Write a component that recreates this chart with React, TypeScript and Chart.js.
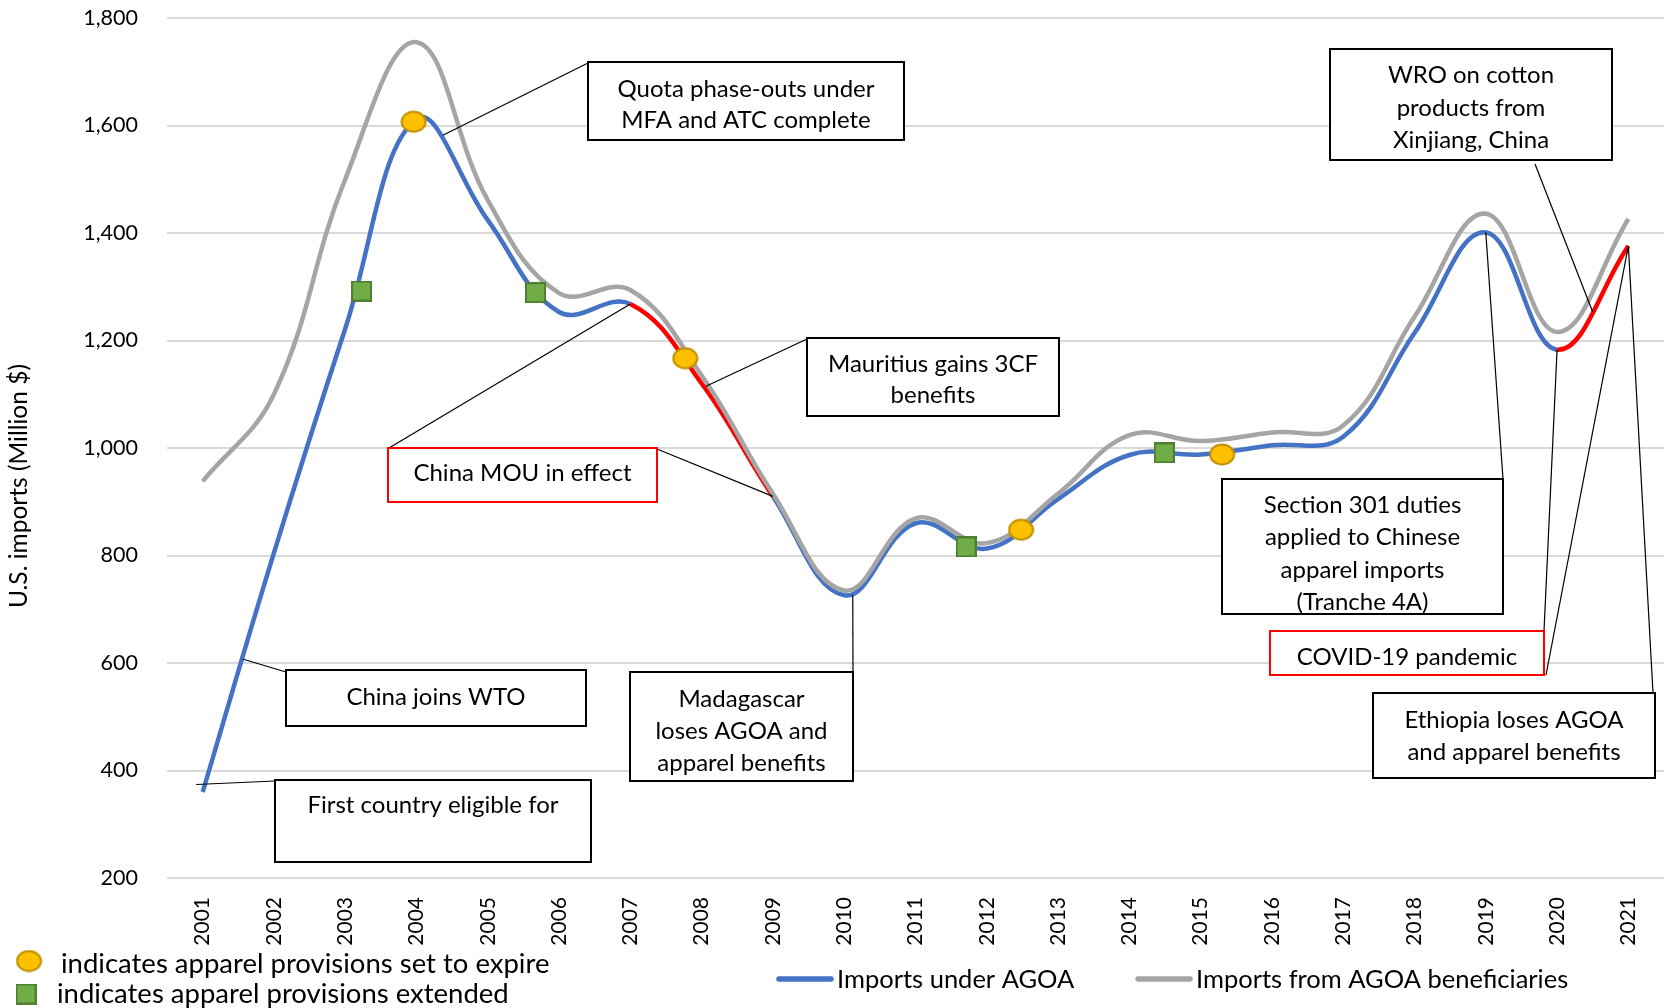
import React, { useEffect, useRef } from "react";
import { Chart, registerables } from "chart.js";

Chart.register(...registerables);

// ---------- data ----------
const years = [2001, 2002, 2003, 2004, 2005, 2006, 2007, 2008, 2009, 2010, 2011, 2012, 2013, 2014, 2015, 2016, 2017, 2018, 2019, 2020, 2021];
const importsUnderAgoa = [360, 805, 1222, 1612, 1424, 1253, 1268, 1120, 910, 726, 860, 813, 905, 987, 988, 1005, 1021, 1214, 1401, 1183, 1376];
const importsFromBeneficiaries = [938, 1100, 1500, 1755, 1461, 1288, 1294, 1135, 915, 735, 869, 823, 915, 1024, 1013, 1029, 1042, 1244, 1436, 1216, 1426];
// segments of "Imports under AGOA" starting at these years are highlighted red
const highlightedSegmentStarts = [2007, 2008, 2020];
// markers: apparel provisions set to expire (yellow) / extended (green)
const expireYears = [2003.96, 2007.77, 2012.48, 2015.3];
const expireValues = [1607, 1167, 848, 988];
const extendedYears = [2003.23, 2005.67, 2011.71, 2014.49];
const extendedValues = [1292, 1289, 816, 991];
const yTickValues = [200, 400, 600, 800, 1000, 1200, 1400, 1600, 1800];

const seriesNames = ["Imports under AGOA", "Imports from AGOA beneficiaries"];
const markerLegend = ["indicates apparel provisions set to expire", "indicates apparel provisions extended"];
const yAxisTitle = "U.S. imports (Million $)";

// ---------- styles ----------
const FONT = "Lato, Carlito, 'Open Sans', sans-serif";
const BLUE = "#4472C4";
const GRAY = "#A5A5A5";
const RED = "#FF0000";

type Note = {
  lines: string[];
  box: [number, number, number, number];
  border: string;
  baseline: number;
  lh: number;
  leaders: { from: [number, number]; to: [number, number] }[];
};

const notes: Note[] = [
  { lines: ["Quota phase-outs under", "MFA and ATC complete"], box: [588, 62, 316, 78], border: "#000", baseline: 97, lh: 31,
    leaders: [{ from: [588, 63], to: [2004.37, 1582] }] },
  { lines: ["Mauritius gains 3CF", "benefits"], box: [807, 338, 252, 78], border: "#000", baseline: 372, lh: 31,
    leaders: [{ from: [807, 339], to: [2008.06, 1115] }] },
  { lines: ["China MOU in effect"], box: [388, 448, 269, 54], border: RED, baseline: 481, lh: 31,
    leaders: [{ from: [389, 448], to: [2007, importsUnderAgoa[6]] }, { from: [657, 449], to: [2009, importsUnderAgoa[8]] }] },
  { lines: ["China joins WTO"], box: [286, 670, 300, 56], border: "#000", baseline: 705, lh: 31,
    leaders: [{ from: [286, 672], to: [2001.57, 607] }] },
  { lines: ["First country eligible for"], box: [275, 780, 316, 82], border: "#000", baseline: 813, lh: 31,
    leaders: [{ from: [275, 781], to: [2000.91, 374] }] },
  { lines: ["Madagascar", "loses AGOA and", "apparel benefits"], box: [630, 672, 223, 109], border: "#000", baseline: 707, lh: 32,
    leaders: [{ from: [853, 672], to: [2010.12, 726] }] },
  { lines: ["WRO on cotton", "products from", "Xinjiang, China"], box: [1330, 49, 282, 111], border: "#000", baseline: 83, lh: 32.5,
    leaders: [{ from: [1535, 164], to: [2020.5, 1253] }] },
  { lines: ["Section 301 duties", "applied to Chinese", "apparel imports", "(Tranche 4A)"], box: [1222, 479, 281, 135], border: "#000", baseline: 513, lh: 32.3,
    leaders: [{ from: [1503, 479], to: [2019, importsUnderAgoa[18]] }] },
  { lines: ["COVID-19 pandemic"], box: [1270, 631, 274, 44], border: RED, baseline: 665, lh: 31,
    leaders: [{ from: [1544, 631], to: [2020, importsUnderAgoa[19]] }, { from: [1546, 675], to: [2021, importsUnderAgoa[20]] }] },
  { lines: ["Ethiopia loses AGOA", "and apparel benefits"], box: [1373, 693, 282, 85], border: "#000", baseline: 728, lh: 32,
    leaders: [{ from: [1653, 693], to: [2021, importsUnderAgoa[20]] }] },
];

function makeEllipse(w: number, h: number, fill: string, stroke: string, lw: number) {
  const c = document.createElement("canvas");
  c.width = w; c.height = h;
  const g = c.getContext("2d")!;
  g.beginPath();
  g.ellipse(w / 2, h / 2, w / 2 - lw / 2 - 0.5, h / 2 - lw / 2 - 0.5, 0, 0, Math.PI * 2);
  g.fillStyle = fill; g.fill();
  g.lineWidth = lw; g.strokeStyle = stroke; g.stroke();
  return c;
}

function makeSquare(s: number, fill: string, stroke: string, lw: number) {
  const c = document.createElement("canvas");
  c.width = s; c.height = s;
  const g = c.getContext("2d")!;
  g.fillStyle = fill; g.fillRect(lw / 2, lw / 2, s - lw, s - lw);
  g.lineWidth = lw; g.strokeStyle = stroke; g.strokeRect(lw / 2, lw / 2, s - lw, s - lw);
  return c;
}

export default function App() {
  const ref = useRef<HTMLCanvasElement>(null);

  useEffect(() => {
    const canvas = ref.current;
    if (!canvas) return;
    const yellowMarker = makeEllipse(27, 23, "#FFC000", "#BF9000", 2);
    const greenMarker = makeSquare(21, "#70AD47", "#507E32", 2);

    const overlay = {
      id: "overlay",
      afterDraw(chart: any) {
        const ctx: CanvasRenderingContext2D = chart.ctx;
        const xs = chart.scales.x;
        const ys = chart.scales.y;
        ctx.save();
        // leader lines
        ctx.strokeStyle = "#000";
        ctx.lineWidth = 1.2;
        notes.forEach((n) => {
          n.leaders.forEach((l) => {
            ctx.beginPath();
            ctx.moveTo(l.from[0], l.from[1]);
            ctx.lineTo(xs.getPixelForValue(l.to[0]), ys.getPixelForValue(l.to[1]));
            ctx.stroke();
          });
        });
        // boxes
        ctx.font = `24px ${FONT}`;
        ctx.textAlign = "center";
        ctx.textBaseline = "alphabetic";
        notes.forEach((n) => {
          const [bx, by, bw, bh] = n.box;
          ctx.fillStyle = "#fff";
          ctx.fillRect(bx, by, bw, bh);
          ctx.lineWidth = 2;
          ctx.strokeStyle = n.border;
          ctx.strokeRect(bx, by, bw, bh);
          ctx.fillStyle = "#000";
          n.lines.forEach((t, i) => ctx.fillText(t, bx + bw / 2, n.baseline + i * n.lh));
        });
        // y-axis title
        ctx.save();
        ctx.translate(19, 486);
        ctx.rotate(-Math.PI / 2);
        ctx.font = `24.5px ${FONT}`;
        ctx.textAlign = "center";
        ctx.textBaseline = "middle";
        ctx.fillText(yAxisTitle, 0, 0);
        ctx.restore();
        // marker legend
        ctx.font = `27.5px ${FONT}`;
        ctx.textAlign = "left";
        ctx.textBaseline = "alphabetic";
        ctx.fillStyle = "#000";
        ctx.drawImage(yellowMarker, 29 - yellowMarker.width / 2, 961 - yellowMarker.height / 2);
        ctx.fillText(markerLegend[0], 61, 973);
        ctx.drawImage(greenMarker, 26 - greenMarker.width / 2, 994 - greenMarker.height / 2);
        ctx.fillText(markerLegend[1], 57, 1003);
        // series legend
        ctx.font = `25.5px ${FONT}`;
        const items = [
          { color: BLUE, x: 777, text: seriesNames[0] },
          { color: GRAY, x: 1136, text: seriesNames[1] },
        ];
        items.forEach((it) => {
          ctx.strokeStyle = it.color;
          ctx.lineWidth = 5.5;
          ctx.lineCap = "round";
          ctx.beginPath();
          ctx.moveTo(it.x + 2, 979);
          ctx.lineTo(it.x + 54, 979);
          ctx.stroke();
          ctx.fillStyle = "#000";
          ctx.fillText(it.text, it.x + 60, 988);
        });
        ctx.restore();
      },
    };

    const chart = new Chart(canvas, {
      type: "line",
      data: {
        datasets: [
          {
            label: seriesNames[0],
            data: years.map((yr, i) => ({ x: yr, y: importsUnderAgoa[i] })),
            borderColor: BLUE,
            borderWidth: 4.5,
            pointRadius: 0,
            tension: 0.4,
            order: 2,
            segment: {
              borderColor: (c: any) => (highlightedSegmentStarts.includes(years[c.p0DataIndex]) ? RED : undefined),
            },
          },
          {
            label: seriesNames[1],
            data: years.map((yr, i) => ({ x: yr, y: importsFromBeneficiaries[i] })),
            borderColor: GRAY,
            borderWidth: 4.5,
            pointRadius: 0,
            tension: 0.4,
            order: 1,
          },
          {
            label: "expire",
            data: expireYears.map((yr, i) => ({ x: yr, y: expireValues[i] })),
            showLine: false,
            pointStyle: yellowMarker as any,
            pointRadius: 12,
            order: 0,
          },
          {
            label: "extended",
            data: extendedYears.map((yr, i) => ({ x: yr, y: extendedValues[i] })),
            showLine: false,
            pointStyle: greenMarker as any,
            pointRadius: 10,
            order: 0,
          },
        ],
      },
      options: {
        responsive: false,
        animation: false,
        events: [],
        layout: { autoPadding: false, padding: { top: 18, left: 0, right: 0, bottom: 0 } },
        plugins: { legend: { display: false }, tooltip: { enabled: false } },
        scales: {
          x: {
            type: "linear",
            min: 2000.5,
            max: 2021.5,
            afterBuildTicks: (s: any) => { s.ticks = years.map((v) => ({ value: v })); },
            afterFit: (s: any) => { s.height = 130; s.paddingLeft = 0; s.paddingRight = 0; },
            ticks: {
              autoSkip: false,
              minRotation: 90,
              maxRotation: 90,
              padding: 11,
              color: "#000",
              font: { family: FONT, size: 21 },
              callback: (v: any) => String(v),
            },
            grid: { display: false },
            border: { display: false },
          },
          y: {
            type: "linear",
            min: 200,
            max: 1800,
            afterBuildTicks: (s: any) => { s.ticks = yTickValues.map((v) => ({ value: v })); },
            afterFit: (s: any) => { s.width = 167; s.paddingTop = 0; s.paddingBottom = 0; },
            ticks: {
              padding: 29,
              color: "#000",
              font: { family: FONT, size: 21.5 },
              callback: (v: any) => Number(v).toLocaleString("en-US"),
            },
            grid: { color: "#D9D9D9", lineWidth: 2, drawTicks: false, tickLength: 0 },
            border: { display: false },
          },
        },
      },
      plugins: [overlay],
    } as any);

    return () => chart.destroy();
  }, []);

  return (
    <div style={{ position: "absolute", left: 0, top: 0, width: 1664, height: 1008, background: "#fff" }}>
      <canvas ref={ref} width={1664} height={1008} style={{ width: 1664, height: 1008, display: "block" }} />
    </div>
  );
}
